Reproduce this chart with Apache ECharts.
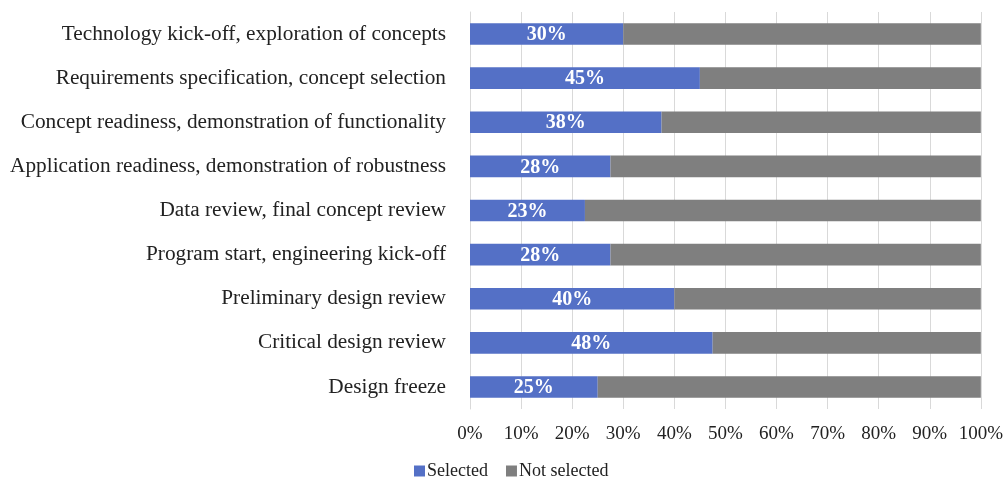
<!DOCTYPE html>
<html>
<head>
<meta charset="utf-8">
<script src="https://cdn.jsdelivr.net/npm/echarts@6/dist/echarts.min.js"></script>
<style>
  html, body { margin: 0; padding: 0; background: #ffffff; }
  #chart { width: 1006px; height: 477px; }
</style>
</head>
<body>
<div id="chart"></div>
<script>
// Project milestones, top to bottom
const milestones = [
  'Technology kick-off, exploration of concepts',
  'Requirements specification, concept selection',
  'Concept readiness, demonstration of functionality',
  'Application readiness, demonstration of robustness',
  'Data review, final concept review',
  'Program start, engineering kick-off',
  'Preliminary design review',
  'Critical design review',
  'Design freeze'
];
// Share of respondents (%) who selected each milestone
const selectedShare = [30, 45, 37.5, 27.5, 22.5, 27.5, 40, 47.5, 25];
const notSelectedShare = selectedShare.map(v => 100 - v);
const xTickValues = [0, 10, 20, 30, 40, 50, 60, 70, 80, 90, 100];

const serif = '"Liberation Serif", "Times New Roman", serif';

const chart = echarts.init(document.getElementById('chart'), null, { renderer: 'canvas' });
chart.setOption({
  animation: false,
  backgroundColor: '#ffffff',
  grid: { left: 470, right: 25, top: 12, bottom: 68, containLabel: false },
  legend: {
    top: 457,
    left: 409,
    itemWidth: 11,
    itemHeight: 11,
    itemGap: 18,
    icon: 'rect',
    textStyle: { fontFamily: serif, fontSize: 18, color: '#222', padding: [0, 0, 0, -3] },
    data: ['Selected', 'Not selected']
  },
  xAxis: {
    type: 'value',
    min: 0,
    max: 100,
    interval: 10,
    axisLine: { show: false },
    axisTick: { show: false },
    axisLabel: {
      fontFamily: serif,
      fontSize: 19,
      color: '#222',
      margin: 16,
      formatter: v => (xTickValues.includes(v) ? v + '%' : '')
    },
    splitLine: { show: true, lineStyle: { color: '#d9d9d9', width: 1 } }
  },
  yAxis: {
    type: 'category',
    inverse: true,
    data: milestones,
    axisLine: { show: true, lineStyle: { color: '#d9d9d9' } },
    axisTick: { show: false },
    axisLabel: {
      fontFamily: serif,
      fontSize: 21.3,
      color: '#222',
      margin: 24
    }
  },
  series: [
    {
      name: 'Selected',
      type: 'bar',
      stack: 'total',
      barCategoryGap: '51%',
      data: selectedShare,
      itemStyle: { color: '#5470c6' },
      label: {
        show: true,
        position: 'inside',
        offset: [0, 1],
        fontFamily: serif,
        fontWeight: 'bold',
        fontSize: 20,
        color: '#ffffff',
        formatter: p => Math.round(p.value) + '%'
      }
    },
    {
      name: 'Not selected',
      type: 'bar',
      stack: 'total',
      barCategoryGap: '51%',
      data: notSelectedShare,
      itemStyle: { color: '#7f7f7f' }
    }
  ]
});
</script>
</body>
</html>
